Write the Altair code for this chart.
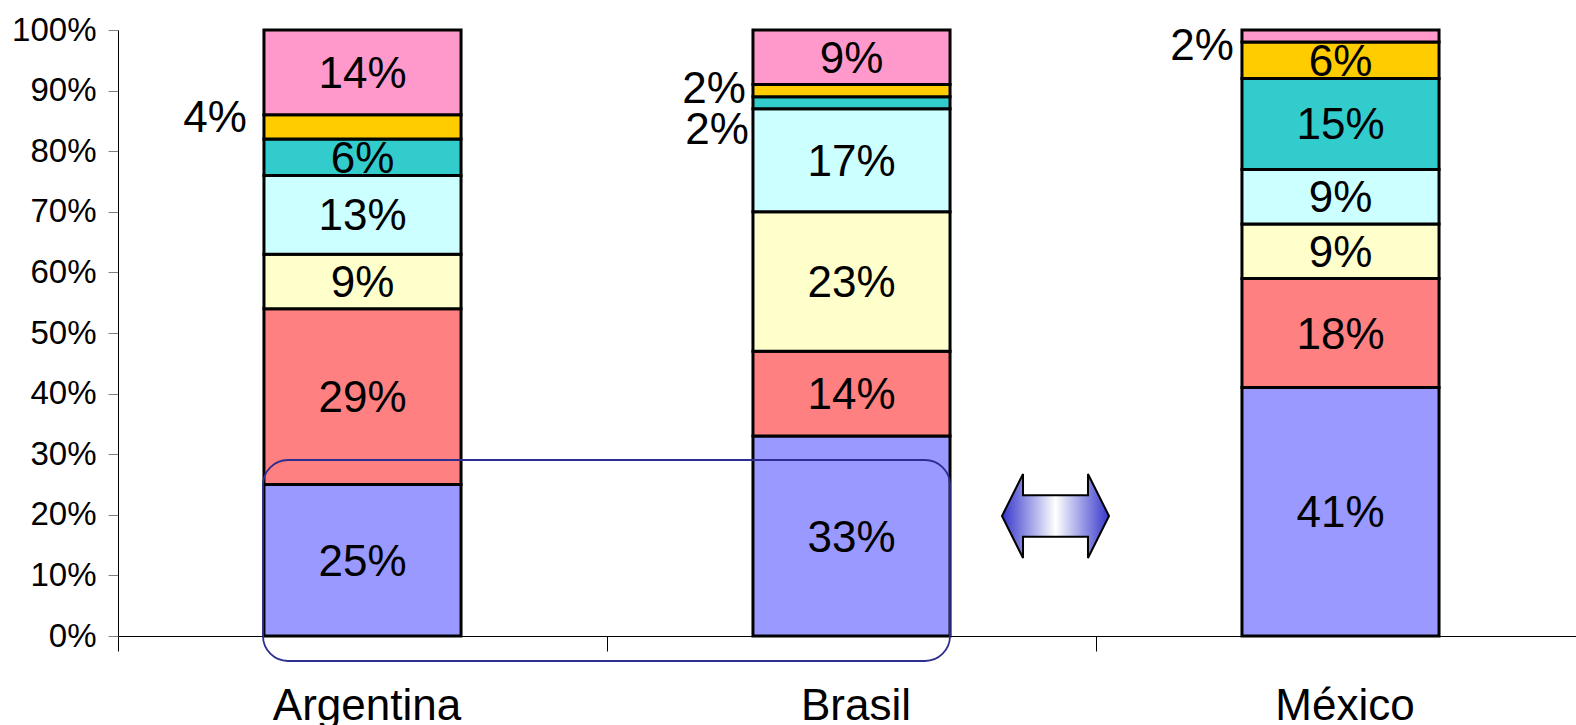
import altair as alt
import pandas as pd

FONT = "Liberation Sans"

# Countries and the share of each segment (bottom to top), in percent
paises = ["Argentina", "Brasil", "México"]
argentina = [25, 29, 9, 13, 6, 4, 14]
brasil = [33, 14, 23, 17, 2, 2, 9]
mexico = [41, 18, 9, 9, 15, 6, 2]

colores = ["#9999ff", "#ff8080", "#ffffcc", "#ccffff", "#33cccc", "#ffcc00", "#ff99cc"]
y_ticks = [0, 10, 20, 30, 40, 50, 60, 70, 80, 90, 100]

# Thin segments whose label sits left of the bar: (gap from bar in px, vertical nudge in px)
fuera = {
    ("Argentina", 5): (17, -10),
    ("Brasil", 5): (7, -3),
    ("Brasil", 4): (4, 26),
    ("México", 6): (8, 8),
}

rows = []
for pais, vals in zip(paises, [argentina, brasil, mexico]):
    base = 0
    for i, v in enumerate(vals):
        rows.append(dict(pais=pais, seg=i, valor=v, y0=base, y1=base + v,
                         mid=base + v / 2, label=f"{v}%"))
        base += v
df = pd.DataFrame(rows)

BAR_FRAC = 0.403
BAR_HALF = 489 * BAR_FRAC / 2

x_enc = alt.X(
    "pais:N", sort=paises,
    scale=alt.Scale(range=[0, 1467], paddingInner=0, paddingOuter=0),
    axis=alt.Axis(title=None, labelAngle=0, tickBand="extent", tickSize=15,
                  tickColor="black", domainColor="black", labelColor="black",
                  labelFont=FONT, labelFontSize=44, labelPadding=33, labelLimit=0,
                  labelOffset=4),
)
y_scale = alt.Scale(domain=[0, 100])

bars = alt.Chart(df).mark_bar(
    width=alt.RelativeBandSize(BAR_FRAC), stroke="black", strokeWidth=3
).encode(
    x=x_enc,
    y=alt.Y("y0:Q", scale=y_scale,
            axis=alt.Axis(values=y_ticks, labelExpr="datum.value + '%'", title=None,
                          grid=False, tickSize=10, tickColor="#808080",
                          domainColor="black", labelColor="black", labelFont=FONT,
                          labelFontSize=33, labelPadding=12)),
    y2="y1:Q",
    color=alt.Color("seg:N", scale=alt.Scale(domain=list(range(7)), range=colores),
                    legend=None),
)

mask_out = df.apply(lambda r: (r["pais"], r["seg"]) in fuera, axis=1)

inside = alt.Chart(df[~mask_out]).mark_text(
    font=FONT, fontSize=44, baseline="middle", align="center", dy=2.5, color="black"
).encode(x=x_enc, y=alt.Y("mid:Q", scale=y_scale), text="label:N")

outside_layers = []
for (pais, seg), (gap, nudge) in fuera.items():
    sub = df[(df["pais"] == pais) & (df["seg"] == seg)]
    outside_layers.append(
        alt.Chart(sub).mark_text(
            font=FONT, fontSize=44, baseline="middle", align="right",
            dx=-(BAR_HALF + gap), dy=nudge + 2.5, color="black"
        ).encode(x=x_enc, y=alt.Y("mid:Q", scale=y_scale), text="label:N")
    )

one = pd.DataFrame({"k": [0]})

# Rounded outline grouping the first segments of Argentina and Brasil
marco = alt.Chart(one).mark_rect(
    cornerRadius=25, fill="transparent", stroke="#2e2e90", strokeWidth=1.8
).encode(x=alt.value(145), x2=alt.value(832), y=alt.value(430), y2=alt.value(631))

# Double-headed comparison arrow with a blue-white-blue gradient
flecha_path = ("M -1 0 L -0.607 -0.785 L -0.607 -0.39 L 0.607 -0.39 L 0.607 -0.785 "
               "L 1 0 L 0.607 0.785 L 0.607 0.39 L -0.607 0.39 L -0.607 0.785 Z")
degradado = alt.LinearGradient(
    gradient="linear", x1=0, x2=1, y1=0, y2=0,
    stops=[alt.GradientStop(offset=0, color="#3636cc"),
           alt.GradientStop(offset=0.5, color="#ffffff"),
           alt.GradientStop(offset=1, color="#3636cc")],
)
flecha = alt.Chart(one).mark_point(
    shape=flecha_path, size=107 * 107, filled=True, fill=degradado, fillOpacity=1,
    stroke="black", strokeWidth=2, opacity=1
).encode(x=alt.value(937.5), y=alt.value(486))

chart = alt.layer(bars, inside, *outside_layers, marco, flecha).properties(
    width=1458, height=606,
    autosize=alt.AutoSizeParams(type="none"),
    padding={"left": 118, "top": 30, "right": 0, "bottom": 89},
    background="white",
).configure_view(stroke=None)

chart.save("out.html", embed_options={"renderer": "svg", "actions": False})
